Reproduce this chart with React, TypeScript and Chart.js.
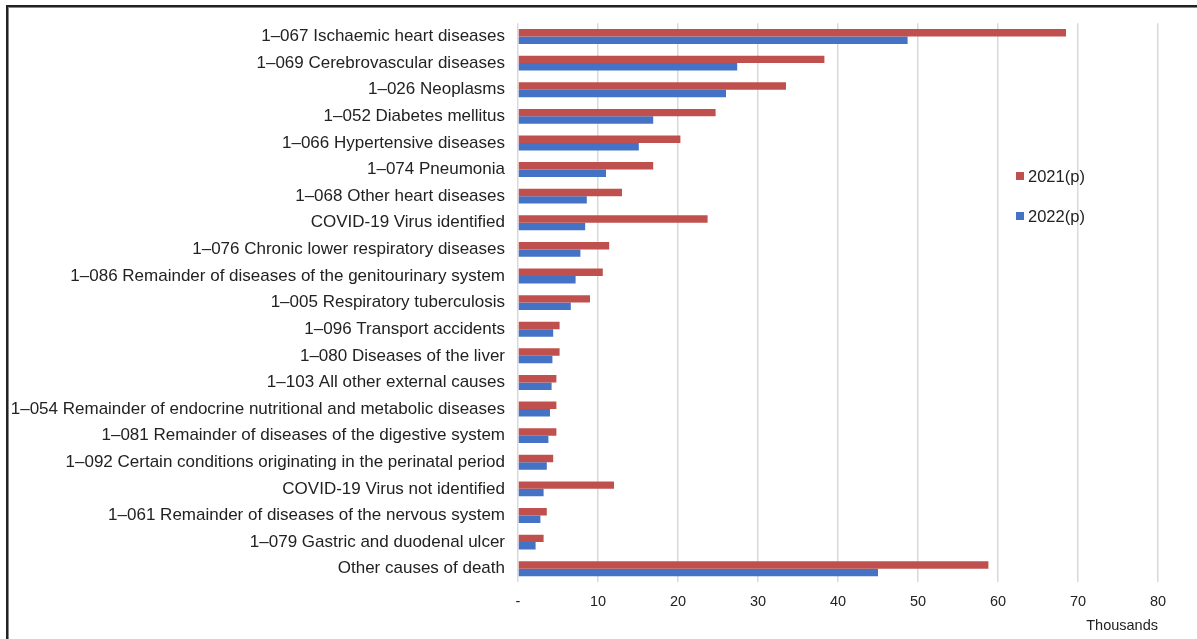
import React, { useEffect, useRef } from "react";
import { Chart, registerables } from "chart.js";

Chart.register(...registerables);

const categories = [
  "1–067 Ischaemic heart diseases",
  "1–069 Cerebrovascular diseases",
  "1–026 Neoplasms",
  "1–052 Diabetes mellitus",
  "1–066 Hypertensive diseases",
  "1–074 Pneumonia",
  "1–068 Other heart diseases",
  "COVID-19 Virus identified",
  "1–076 Chronic lower respiratory diseases",
  "1–086 Remainder of diseases of the genitourinary system",
  "1–005 Respiratory tuberculosis",
  "1–096 Transport accidents",
  "1–080 Diseases of the liver",
  "1–103 All other external causes",
  "1–054 Remainder of endocrine nutritional and metabolic diseases",
  "1–081 Remainder of diseases of the digestive system",
  "1–092 Certain conditions originating in the perinatal period",
  "COVID-19 Virus not identified",
  "1–061 Remainder of diseases of the nervous system",
  "1–079 Gastric and duodenal ulcer",
  "Other causes of death",
];

const values2021 = [
  68.5, 38.3, 33.5, 24.7, 20.3, 16.9, 13.0, 23.7, 11.4, 10.6, 9.0, 5.2, 5.2,
  4.8, 4.8, 4.8, 4.4, 12.0, 3.6, 3.2, 58.8,
];
const values2022 = [
  48.7, 27.4, 26.0, 16.9, 15.1, 11.0, 8.6, 8.4, 7.8, 7.2, 6.6, 4.4, 4.3, 4.2,
  4.0, 3.8, 3.6, 3.2, 2.8, 2.2, 45.0,
];
const seriesNames = ["2021(p)", "2022(p)"];
const seriesColors = ["#C0504D", "#4472C4"];
const xTicks = { min: 0, max: 80, step: 10 };
const axisTitle = "Thousands";

const FONT = "'Liberation Sans', Arial, sans-serif";
const TEXT = "#222222";

const legendPlugin = {
  id: "customLegend",
  afterDraw(chart: any) {
    const ctx = chart.ctx;
    ctx.save();
    ctx.font = `16.5px ${FONT}`;
    ctx.textBaseline = "middle";
    ctx.textAlign = "left";
    const ys = [176, 216];
    seriesNames.forEach((n, i) => {
      ctx.fillStyle = seriesColors[i];
      ctx.fillRect(1016, ys[i] - 4, 8, 8);
      ctx.fillStyle = TEXT;
      ctx.fillText(n, 1028, ys[i] + 1);
    });
    ctx.restore();
  },
};

export default function App() {
  const ref = useRef<HTMLCanvasElement | null>(null);
  useEffect(() => {
    if (!ref.current) return;
    const chart = new Chart(ref.current, {
      type: "bar",
      data: {
        labels: categories,
        datasets: [
          {
            label: seriesNames[0],
            data: values2021,
            backgroundColor: seriesColors[0],
            borderWidth: 0,
            categoryPercentage: 0.56,
            barPercentage: 1.0,
          },
          {
            label: seriesNames[1],
            data: values2022,
            backgroundColor: seriesColors[1],
            borderWidth: 0,
            categoryPercentage: 0.56,
            barPercentage: 1.0,
          },
        ],
      },
      options: {
        indexAxis: "y",
        animation: false,
        responsive: false,
        maintainAspectRatio: false,
        layout: { padding: { left: 0, top: 20, right: 39, bottom: 0 } },
        plugins: {
          legend: { display: false },
          tooltip: { enabled: false },
        },
        scales: {
          y: {
            type: "category",
            grid: { display: false, drawTicks: false },
            border: { display: false },
            ticks: {
              padding: 13,
              color: TEXT,
              font: { family: FONT, size: 17 },
              autoSkip: false,
            },
            afterFit(scale: any) {
              scale.width = 518;
            },
          },
          x: {
            type: "linear",
            min: xTicks.min,
            max: xTicks.max,
            grid: {
              color: "#d9d9d9",
              lineWidth: 1.5,
              drawTicks: false,
            },
            border: { display: false },
            ticks: {
              stepSize: xTicks.step,
              padding: 11,
              color: TEXT,
              font: { family: FONT, size: 14.5 },
              callback: (v: any) => (v === 0 ? "-" : String(v)),
            },
            title: {
              display: true,
              text: axisTitle,
              align: "end",
              color: TEXT,
              font: { family: FONT, size: 14.5 },
              padding: { top: 2, bottom: 4 },
            },
            afterFit(scale: any) {
              scale.height = 57;
            },
          },
        },
      },
      plugins: [legendPlugin],
    } as any);
    return () => chart.destroy();
  }, []);

  return (
    <div
      style={{
        position: "fixed",
        left: 0,
        top: 0,
        width: 1197,
        height: 639,
        background: "#fff",
        overflow: "hidden",
      }}
    >
      <canvas
        ref={ref}
        width={1197}
        height={639}
        style={{ position: "absolute", left: 0, top: 0, width: 1197, height: 639 }}
      />
      <div
        style={{
          position: "absolute",
          left: 6,
          top: 5,
          width: 1300,
          height: 700,
          borderTop: "2px solid #222",
          borderLeft: "2px solid #222",
          boxShadow: "inset 1px 1px 0 #888",
          pointerEvents: "none",
        }}
      />
    </div>
  );
}
